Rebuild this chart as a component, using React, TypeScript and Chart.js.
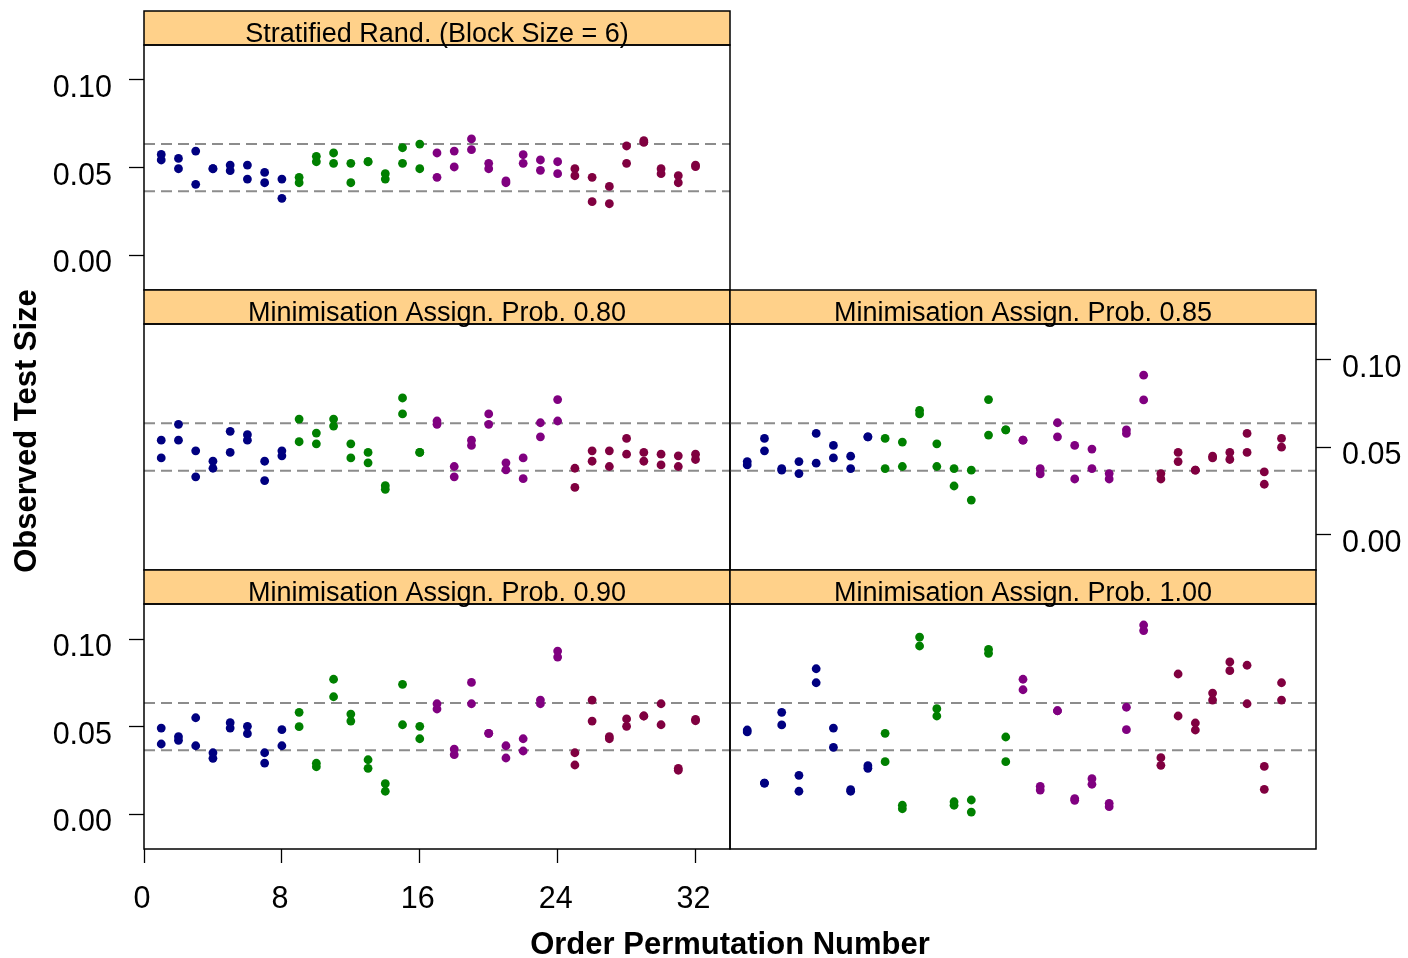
import React, { useEffect, useRef } from 'react';
import { Chart, registerables } from 'chart.js';

Chart.register(...registerables);

// ---------------- data ----------------
const permutation = [
  1, 2, 3, 4, 5, 6, 7, 8, 9, 10, 11, 12, 13, 14, 15, 16,
  17, 18, 19, 20, 21, 22, 23, 24, 25, 26, 27, 28, 29, 30, 31, 32,
];

const stratHi = [0.0575, 0.0552, 0.0594, 0.0493, 0.0514, 0.0514, 0.0472, 0.0434, 0.0444, 0.0564, 0.0583, 0.0524, 0.0533, 0.0465, 0.0613, 0.0634, 0.0583, 0.0594, 0.0663, 0.0524, 0.0423, 0.0573, 0.0543, 0.0533, 0.0493, 0.0444, 0.0392, 0.0623, 0.0653, 0.0493, 0.0453, 0.0514];
const stratLo = [0.0543, 0.0493, 0.0404, 0.0493, 0.0482, 0.0434, 0.0413, 0.0324, 0.0413, 0.0533, 0.0524, 0.0413, 0.0533, 0.0434, 0.0524, 0.0493, 0.0444, 0.0503, 0.0602, 0.0493, 0.0413, 0.0524, 0.0484, 0.0465, 0.0453, 0.0305, 0.0293, 0.0524, 0.0644, 0.0465, 0.0413, 0.0505];

const min80Hi = [0.0539, 0.0629, 0.0478, 0.0419, 0.0589, 0.0570, 0.0419, 0.0478, 0.0659, 0.0579, 0.0659, 0.0518, 0.0469, 0.0280, 0.0779, 0.0469, 0.0648, 0.0389, 0.0539, 0.0688, 0.0410, 0.0438, 0.0638, 0.0770, 0.0379, 0.0478, 0.0478, 0.0549, 0.0469, 0.0459, 0.0450, 0.0459];
const min80Lo = [0.0438, 0.0539, 0.0330, 0.0379, 0.0469, 0.0539, 0.0309, 0.0450, 0.0530, 0.0518, 0.0619, 0.0438, 0.0410, 0.0259, 0.0688, 0.0469, 0.0629, 0.0330, 0.0509, 0.0629, 0.0370, 0.0320, 0.0558, 0.0648, 0.0270, 0.0419, 0.0389, 0.0459, 0.0419, 0.0398, 0.0389, 0.0429];

const min85Hi = [0.0417, 0.0549, 0.0377, 0.0417, 0.0577, 0.0509, 0.0448, 0.0558, 0.0549, 0.0528, 0.0709, 0.0518, 0.0377, 0.0368, 0.0770, 0.0598, 0.0539, 0.0377, 0.0638, 0.0509, 0.0488, 0.0349, 0.0598, 0.0909, 0.0349, 0.0469, 0.0368, 0.0448, 0.0469, 0.0577, 0.0358, 0.0549];
const min85Lo = [0.0398, 0.0478, 0.0368, 0.0349, 0.0408, 0.0438, 0.0377, 0.0558, 0.0377, 0.0389, 0.0688, 0.0389, 0.0278, 0.0198, 0.0568, 0.0598, 0.0539, 0.0347, 0.0558, 0.0318, 0.0377, 0.0318, 0.0577, 0.0768, 0.0318, 0.0417, 0.0368, 0.0438, 0.0429, 0.0469, 0.0288, 0.0499];

const min90Hi = [0.0491, 0.0442, 0.0550, 0.0350, 0.0522, 0.0501, 0.0350, 0.0482, 0.0581, 0.0290, 0.0770, 0.0571, 0.0310, 0.0173, 0.0741, 0.0501, 0.0630, 0.0371, 0.0752, 0.0461, 0.0390, 0.0430, 0.0651, 0.0931, 0.0350, 0.0651, 0.0442, 0.0543, 0.0560, 0.0630, 0.0261, 0.0541];
const min90Lo = [0.0400, 0.0421, 0.0390, 0.0318, 0.0491, 0.0459, 0.0291, 0.0390, 0.0499, 0.0270, 0.0670, 0.0531, 0.0261, 0.0130, 0.0510, 0.0430, 0.0600, 0.0339, 0.0630, 0.0461, 0.0320, 0.0360, 0.0630, 0.0897, 0.0280, 0.0531, 0.0430, 0.0501, 0.0560, 0.0510, 0.0250, 0.0533];

const min100Hi = [0.0480, 0.0177, 0.0581, 0.0221, 0.0830, 0.0491, 0.0139, 0.0276, 0.0461, 0.0050, 0.1011, 0.0602, 0.0070, 0.0080, 0.0941, 0.0440, 0.0770, 0.0158, 0.0590, 0.0088, 0.0202, 0.0061, 0.0610, 0.1080, 0.0322, 0.0800, 0.0520, 0.0691, 0.0869, 0.0850, 0.0272, 0.0750];
const min100Lo = [0.0469, 0.0177, 0.0509, 0.0130, 0.0750, 0.0381, 0.0130, 0.0261, 0.0299, 0.0030, 0.0960, 0.0560, 0.0050, 0.0011, 0.0918, 0.0299, 0.0710, 0.0137, 0.0590, 0.0078, 0.0170, 0.0042, 0.0482, 0.1048, 0.0278, 0.0560, 0.0480, 0.0651, 0.0819, 0.0630, 0.0141, 0.0651];

const stripLabels = [
  'Stratified Rand. (Block Size = 6)',
  'Minimisation Assign. Prob. 0.80',
  'Minimisation Assign. Prob. 0.85',
  'Minimisation Assign. Prob. 0.90',
  'Minimisation Assign. Prob. 1.00',
];
const yTicks = [0, 0.05, 0.1];
const xTicks = [0, 8, 16, 24, 32];
const refLines = [0.0365, 0.0635];
const groupColors = ['#000080', '#008000', '#800080', '#800040'];
const xTitle = 'Order Permutation Number';
const yTitle = 'Observed Test Size';

// ---------------- layout ----------------
const W = 1408;
const H = 958;
const STRIP = 34;
const FONT = "'Liberation Sans', Arial, Helvetica, sans-serif";

type Spec = {
  label: string;
  hi: number[];
  lo: number[];
  left: number;
  top: number;
  right: number;
  bottom: number;
  yAxis: 'left' | 'right' | null;
  xAxis: boolean;
};

const specs: Spec[] = [
  { label: stripLabels[0], hi: stratHi, lo: stratLo, left: 144, top: 45, right: 730, bottom: 290, yAxis: 'left', xAxis: false },
  { label: stripLabels[1], hi: min80Hi, lo: min80Lo, left: 144, top: 324, right: 730, bottom: 570, yAxis: null, xAxis: false },
  { label: stripLabels[2], hi: min85Hi, lo: min85Lo, left: 730, top: 324, right: 1316, bottom: 570, yAxis: 'right', xAxis: false },
  { label: stripLabels[3], hi: min90Hi, lo: min90Lo, left: 144, top: 604, right: 730, bottom: 849, yAxis: 'left', xAxis: true },
  { label: stripLabels[4], hi: min100Hi, lo: min100Lo, left: 730, top: 604, right: 1316, bottom: 849, yAxis: null, xAxis: false },
];

const panelPlugin = {
  id: 'panel',
  beforeDatasetsDraw(chart: any) {
    const { ctx, chartArea: a, scales } = chart;
    const y = scales.y;
    ctx.save();
    ctx.beginPath();
    ctx.rect(a.left, a.top, a.right - a.left, a.bottom - a.top);
    ctx.clip();
    ctx.strokeStyle = '#8c8c8c';
    ctx.lineWidth = 2;
    ctx.setLineDash([11, 6]);
    for (const v of refLines) {
      const py = y.getPixelForValue(v);
      ctx.beginPath();
      ctx.moveTo(a.left, py);
      ctx.lineTo(a.right, py);
      ctx.stroke();
    }
    ctx.restore();
  },
  afterDraw(chart: any, _args: any, opts: any) {
    const { ctx, chartArea: a } = chart;
    const w = a.right - a.left;
    ctx.save();
    ctx.fillStyle = '#FFD18A';
    ctx.fillRect(a.left, a.top - STRIP, w, STRIP);
    ctx.strokeStyle = '#000';
    ctx.lineWidth = 1.5;
    ctx.strokeRect(a.left, a.top - STRIP, w, STRIP);
    ctx.strokeRect(a.left, a.top, w, a.bottom - a.top);
    ctx.fillStyle = '#000';
    ctx.font = `27px ${FONT}`;
    ctx.textAlign = 'center';
    ctx.textBaseline = 'middle';
    ctx.fillText(opts.label, a.left + w / 2, a.top - STRIP / 2 + 7);
    ctx.restore();
  },
};

function buildConfig(p: Spec): any {
  const pts: { x: number; y: number }[] = [];
  const colors: string[] = [];
  permutation.forEach((x, i) => {
    const c = groupColors[Math.floor((x - 1) / 8)];
    pts.push({ x, y: p.hi[i] });
    colors.push(c);
    pts.push({ x, y: p.lo[i] });
    colors.push(c);
  });
  const yAxisWidth = p.yAxis === 'left' ? p.left : p.yAxis === 'right' ? W - p.right : 0;
  const xAxisHeight = p.xAxis ? H - p.bottom : 0;
  const tickFont = { family: FONT, size: 30.5 };
  return {
    type: 'scatter',
    data: {
      datasets: [
        {
          data: pts,
          backgroundColor: colors,
          pointBackgroundColor: colors,
          borderWidth: 0,
          pointBorderWidth: 0,
          pointRadius: 4.4,
          pointHoverRadius: 4.4,
        },
      ],
    },
    options: {
      responsive: false,
      animation: false,
      devicePixelRatio: 1,
      events: [],
      layout: {
        padding: {
          left: p.yAxis === 'left' ? 0 : p.left,
          right: p.yAxis === 'right' ? 0 : W - p.right,
          top: p.top,
          bottom: p.xAxis ? 0 : H - p.bottom,
        },
      },
      plugins: {
        legend: { display: false },
        tooltip: { enabled: false },
        panel: { label: p.label },
      },
      scales: {
        x: {
          type: 'linear',
          min: 0,
          max: 34,
          position: 'bottom',
          display: p.xAxis,
          afterBuildTicks: (s: any) => {
            s.ticks = xTicks.map((v) => ({ value: v }));
          },
          ticks: {
            font: tickFont,
            color: '#000',
            padding: 18,
            labelOffset: -2,
            maxRotation: 0,
            autoSkip: false,
            callback: (v: any) => String(v),
          },
          grid: {
            display: true,
            drawOnChartArea: false,
            drawTicks: true,
            tickLength: 14,
            tickColor: '#000',
            tickWidth: 1.3,
          },
          border: { display: false },
          afterFit: (s: any) => {
            if (!p.xAxis) return;
            s.height = xAxisHeight;
            s.paddingLeft = 0;
            s.paddingRight = 0;
            s.paddingTop = 0;
            s.paddingBottom = 0;
          },
        },
        y: {
          type: 'linear',
          min: -0.02,
          max: 0.12,
          position: p.yAxis === 'right' ? 'right' : 'left',
          display: p.yAxis !== null,
          afterBuildTicks: (s: any) => {
            s.ticks = yTicks.map((v) => ({ value: v }));
          },
          ticks: {
            font: tickFont,
            color: '#000',
            padding: p.yAxis === 'right' ? 11 : 17,
            labelOffset: 9,
            callback: (v: any) => Number(v).toFixed(2),
          },
          grid: {
            display: true,
            drawOnChartArea: false,
            drawTicks: true,
            tickLength: 15,
            tickColor: '#000',
            tickWidth: 1.3,
          },
          border: { display: false },
          afterFit: (s: any) => {
            if (p.yAxis === null) return;
            s.width = yAxisWidth;
            s.paddingLeft = 0;
            s.paddingRight = 0;
            s.paddingTop = 0;
            s.paddingBottom = 0;
          },
        },
      },
    },
    plugins: [panelPlugin],
  };
}

function Panel({ spec }: { spec: Spec }) {
  const ref = useRef<HTMLCanvasElement>(null);
  useEffect(() => {
    if (!ref.current) return;
    const chart = new Chart(ref.current, buildConfig(spec));
    return () => chart.destroy();
  }, [spec]);
  return (
    <canvas
      ref={ref}
      width={W}
      height={H}
      style={{ position: 'absolute', left: 0, top: 0, width: W, height: H, pointerEvents: 'none' }}
    />
  );
}

export default function App() {
  return (
    <div
      style={{
        position: 'fixed',
        left: 0,
        top: 0,
        width: W,
        height: H,
        background: '#fff',
        overflow: 'hidden',
        fontFamily: FONT,
      }}
    >
      {specs.map((s, i) => (
        <Panel key={i} spec={s} />
      ))}
      <div
        style={{
          position: 'absolute',
          left: 430,
          top: 926,
          width: 600,
          height: 36,
          lineHeight: '36px',
          textAlign: 'center',
          fontWeight: 'bold',
          fontSize: 31,
          color: '#000',
          whiteSpace: 'nowrap',
        }}
      >
        {xTitle}
      </div>
      <div
        style={{
          position: 'absolute',
          left: 26 - 200,
          top: 431 - 18,
          width: 400,
          height: 36,
          lineHeight: '36px',
          textAlign: 'center',
          fontWeight: 'bold',
          fontSize: 31,
          color: '#000',
          whiteSpace: 'nowrap',
          transform: 'rotate(-90deg)',
        }}
      >
        {yTitle}
      </div>
    </div>
  );
}
